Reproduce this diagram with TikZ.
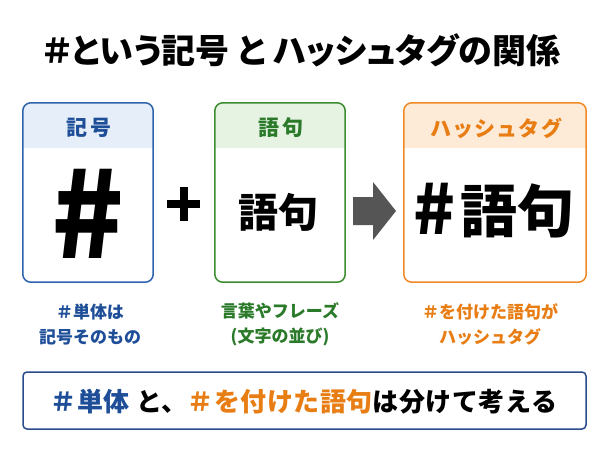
\documentclass[tikz,border=0pt]{standalone}
\usepackage{fontspec}
\setmainfont{Noto Sans CJK JP}
\definecolor{bluebd}{HTML}{2F63AD}
\definecolor{bluehd}{HTML}{E6EEF9}
\definecolor{bluetx}{HTML}{1F4E99}
\definecolor{greenbd}{HTML}{3C8D2F}
\definecolor{greenhd}{HTML}{E6F3E3}
\definecolor{greentx}{HTML}{2A7A2A}
\definecolor{orangebd}{HTML}{F08A24}
\definecolor{orangehd}{HTML}{FDEBD8}
\definecolor{orangetx}{HTML}{E87D14}
\definecolor{notebd}{HTML}{2B4C8C}
\definecolor{arrowgray}{HTML}{555555}
\tikzset{
  cardbox/.style={minimum width=130pt, minimum height=179pt, inner sep=0pt},
  hdrtext/.style={font=\fontsize{21}{25}\selectfont\bfseries\addfontfeatures{RawFeature=+palt,LetterSpace=15}},
  captext/.style={font=\fontsize{17}{25}\selectfont\bfseries, align=center},
}
\begin{document}
\begin{tikzpicture}[x=1pt,y=-1pt]
\useasboundingbox (0,0) rectangle (600,450);
\fill[white] (0,0) rectangle (600,450);

% title
\node[font=\fontsize{34}{40}\selectfont\bfseries\addfontfeatures{RawFeature=+palt}] (title) at (302,50) {＃という記号 と ハッシュタグの関係};

% card boxes (positions)
\path (88,192.5) node[cardbox] (b1) {};
\path (280,192.5) node[cardbox] (b2) {};
\path (495,192.5) node[cardbox, minimum width=182pt] (b3) {};

% headers
\begin{scope}
\clip[rounded corners=8pt] (b1.north west) rectangle (b1.south east);
\fill[bluehd] (b1.north west) rectangle ([yshift=-45pt]b1.north east);
\end{scope}
\begin{scope}
\clip[rounded corners=8pt] (b2.north west) rectangle (b2.south east);
\fill[greenhd] (b2.north west) rectangle ([yshift=-45pt]b2.north east);
\end{scope}
\begin{scope}
\clip[rounded corners=8pt] (b3.north west) rectangle (b3.south east);
\fill[orangehd] (b3.north west) rectangle ([yshift=-45pt]b3.north east);
\end{scope}
\draw[bluebd, line width=1.5pt, rounded corners=8pt] (b1.north west) rectangle (b1.south east);
\draw[greenbd, line width=1.5pt, rounded corners=8pt] (b2.north west) rectangle (b2.south east);
\draw[orangebd, line width=1.5pt, rounded corners=8pt] (b3.north west) rectangle (b3.south east);

\node[hdrtext, text=bluetx] (h1) at (89,128) {記号};
\node[hdrtext, text=greentx] (h2) at (281,128) {語句};
\node[hdrtext, text=orangetx] (h3) at (496,128) {ハッシュタグ};

% big contents
\node[font=\fontsize{120}{130}\selectfont\bfseries] (m1) at (88,213.5) {\#};
\node[font=\fontsize{40}{46}\selectfont\bfseries] (m2) at (278,212) {語句};
\node[font=\fontsize{57}{64}\selectfont\bfseries] (m3) at (494,211)
  {\raisebox{-2pt}{\fontsize{69}{70}\selectfont\#}\hspace{5pt}語句};

% plus
\draw[line width=8pt] (167,204) -- (200,204);
\draw[line width=8pt] (183.5,187) -- (183.5,221);

% arrow
\fill[arrowgray] (353,197) -- (373,197) -- (373,182) -- (396,211) -- (373,240) -- (373,225) -- (353,225) -- cycle;

% captions
\node[captext, text=bluetx] (c1) at (90,324.5) {＃単体は\\記号そのもの};
\node[captext, text=greentx] (c2) at (280,324.5) {言葉やフレーズ\\(文字の並び)};
\node[captext, text=orangetx] (c3) at (490,324.5) {＃を付けた語句が\\ハッシュタグ};

% bottom note
\node[draw=notebd, line width=1.5pt, rounded corners=4pt, minimum width=563pt, minimum height=57pt] (note) at (304.5,400.5) {};
\node[font=\fontsize{26}{30}\selectfont\bfseries\addfontfeatures{LetterSpace=2}] (notetext) at (304,402)
  {\textcolor{bluetx}{＃単体} と、\textcolor{orangetx}{＃を付けた語句}は分けて考える};
\end{tikzpicture}
\end{document}
